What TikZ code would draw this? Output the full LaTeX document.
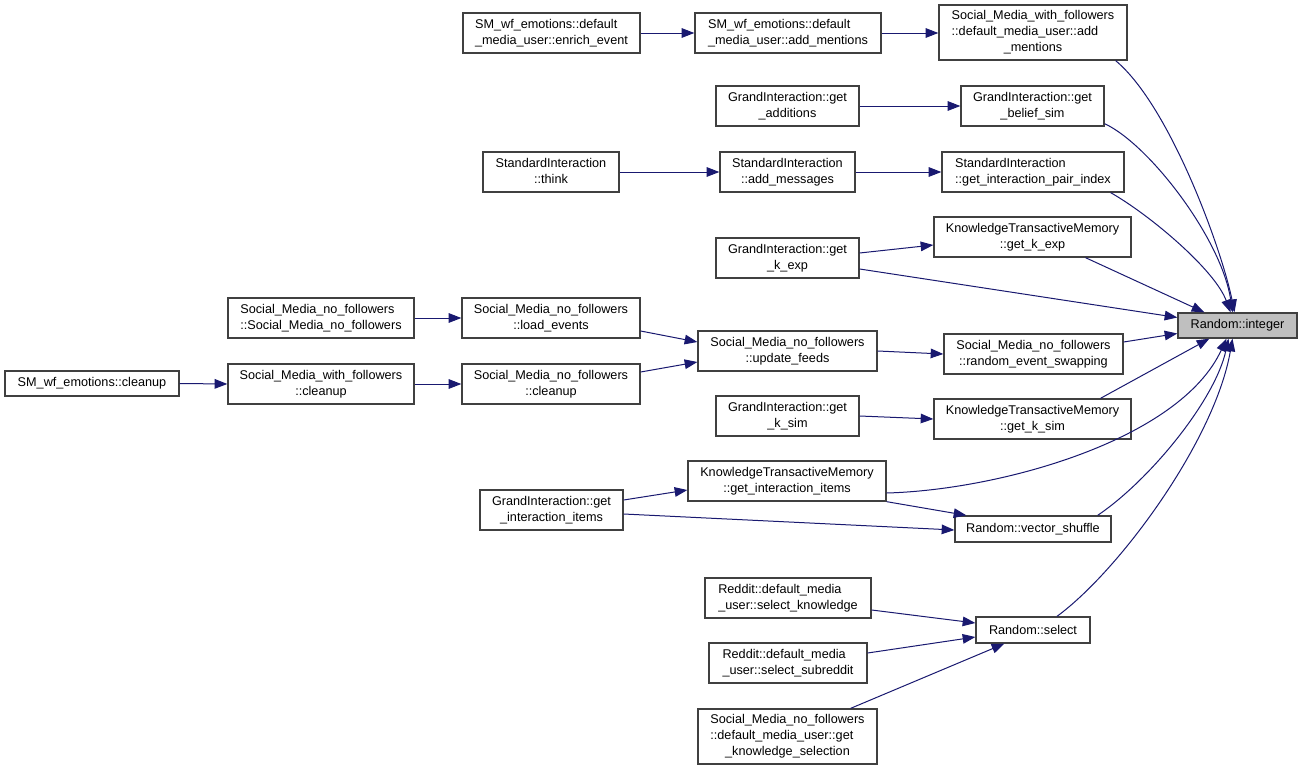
\documentclass[tikz,border=0pt]{standalone}
\usepackage{fontspec}
\setmainfont{Liberation Sans}
\usetikzlibrary{arrows.meta,calc}
\definecolor{edgecol}{HTML}{191970}
\definecolor{bordercol}{HTML}{404040}
\definecolor{rootfill}{HTML}{BFBFBF}
\newcommand\lab[2]{\begin{tabular}{@{}l@{}}#1\\\multicolumn{1}{@{}c@{}}{#2}\end{tabular}}
\begin{document}
\begin{tikzpicture}[x=0.75pt,y=-0.75pt,
  fn/.style n args={2}{draw=bordercol, line width=1pt, fill=white, inner sep=0pt,
    minimum width=#1*0.75pt, minimum height=#2*0.75pt,
    font=\fontsize{9.5}{12}\selectfont},
  ar/.style={draw=edgecol, line width=0.75pt, -{Triangle[length=9.5pt,width=7.2pt]}, fill=none}]
\fill[white] (0,0) rectangle (1303,771);
\useasboundingbox (0,0) rectangle (1303,771);
% nodes
\node[fn={119}{25}, fill=rootfill] (n1) at (1237.5,325.5) {Random::integer};
\node[fn={177}{40}] (n2) at (551.5,33) {\lab{SM\_wf\_emotions::default}{\_media\_user::enrich\_event}};
\node[fn={186}{40}] (n3) at (788,33) {\lab{SM\_wf\_emotions::default}{\_media\_user::add\_mentions}};
\node[fn={188}{55}] (n4) at (1033,32.5) {\lab{Social\_Media\_with\_followers\\::default\_media\_user::add}{\_mentions}};
\node[fn={143}{40}] (n5) at (787.5,106) {\lab{GrandInteraction::get}{\_additions}};
\node[fn={143}{40}] (n6) at (1032.5,106) {\lab{GrandInteraction::get}{\_belief\_sim}};
\node[fn={136}{40}] (n7) at (551,172) {\lab{StandardInteraction}{::think}};
\node[fn={135}{40}] (n8) at (787.5,172) {\lab{StandardInteraction}{::add\_messages}};
\node[fn={182}{40}] (n9) at (1033,172) {\lab{StandardInteraction}{::get\_interaction\_pair\_index}};
\node[fn={197}{40}] (n10) at (1032.5,237) {\lab{KnowledgeTransactiveMemory}{::get\_k\_exp}};
\node[fn={143}{40}] (n11) at (787.5,258) {\lab{GrandInteraction::get}{\_k\_exp}};
\node[fn={186}{40}] (n12) at (321,318) {\lab{Social\_Media\_no\_followers}{::Social\_Media\_no\_followers}};
\node[fn={178}{40}] (n13) at (551,318) {\lab{Social\_Media\_no\_followers}{::load\_events}};
\node[fn={179}{40}] (n14) at (787.5,351) {\lab{Social\_Media\_no\_followers}{::update\_feeds}};
\node[fn={179}{40}] (n15) at (1033.5,354) {\lab{Social\_Media\_no\_followers}{::random\_event\_swapping}};
\node[fn={174}{25}] (n16) at (92,383.5) {SM\_wf\_emotions::cleanup};
\node[fn={186}{40}] (n17) at (321,384) {\lab{Social\_Media\_with\_followers}{::cleanup}};
\node[fn={178}{40}] (n18) at (551,384) {\lab{Social\_Media\_no\_followers}{::cleanup}};
\node[fn={143}{40}] (n19) at (787.5,416) {\lab{GrandInteraction::get}{\_k\_sim}};
\node[fn={197}{40}] (n20) at (1032.5,419) {\lab{KnowledgeTransactiveMemory}{::get\_k\_sim}};
\node[fn={198}{40}] (n21) at (787,481) {\lab{KnowledgeTransactiveMemory}{::get\_interaction\_items}};
\node[fn={143}{40}] (n22) at (551.5,510) {\lab{GrandInteraction::get}{\_interaction\_items}};
\node[fn={156}{26}] (n23) at (1033,529) {Random::vector\_shuffle};
\node[fn={166}{40}] (n24) at (788,598) {\lab{Reddit::default\_media}{\_user::select\_knowledge}};
\node[fn={114}{26}] (n25) at (1033,630) {Random::select};
\node[fn={158}{40}] (n26) at (788,663) {\lab{Reddit::default\_media}{\_user::select\_subreddit}};
\node[fn={179}{55}] (n27) at (787.5,736.5) {\lab{Social\_Media\_no\_followers\\::default\_media\_user::get}{\_knowledge\_selection}};
% edges
\draw[ar] (n2.east) -- (n3.west);
\draw[ar] (n3.east) -- (n3.east -| n4.west);
\draw[ar] ($(n4.south east)+(-12,0)$) .. controls (1170,106) and (1222,250) .. ($(n1.north)+(-3,0)$);
\draw[ar] (n5.east) -- (n6.west);
\draw[ar] ($(n6.south east)+(0,-3)$) .. controls (1150,145) and (1222,240) .. ($(n1.north)+(-5,0)$);
\draw[ar] (n7.east) -- (n8.west);
\draw[ar] (n8.east) -- (n9.west);
\draw[ar] ($(n9.south east)+(-14,0)$) .. controls (1150,215) and (1215,270) .. ($(n1.north)+(-7,0)$);
\draw[ar] ($(n10.south)+(53,0)$) -- ($(n1.north west)+(27,0)$);
\draw[ar] ($(n11.east)+(0,-5)$) -- ($(n10.west)+(0,8)$);
\draw[ar] ($(n11.east)+(0,11)$) -- ($(n1.west)+(0,-8)$);
\draw[ar] (n12.east) -- (n13.west);
\draw[ar] ($(n13.east)+(0,13)$) -- ($(n14.west)+(0,-9)$);
\draw[ar] ($(n18.east)+(0,-12)$) -- ($(n14.west)+(0,11)$);
\draw[ar] (n14.east) -- (n15.west);
\draw[ar] ($(n15.east)+(0,-12)$) -- ($(n1.west)+(0,8)$);
\draw[ar] (n16.east) -- (n17.west);
\draw[ar] (n17.east) -- (n18.west);
\draw[ar] (n19.east) -- (n20.west);
\draw[ar] ($(n20.north)+(68,0)$) -- ($(n1.south west)+(32,0)$);
\draw[ar] ($(n22.east)+(0,-10)$) -- ($(n21.west)+(0,9)$);
\draw[ar] ($(n22.east)+(0,4)$) -- ($(n23.west)+(0,1)$);
\draw[ar] (n21.south east) -- ($(n23.north west)+(12,0)$);
\draw[ar] ($(n21.east)+(0,12)$) .. controls (1000,490) and (1180,440) .. ($(n1.south)+(-11,0)$);
\draw[ar] ($(n23.north east)+(-14,0)$) .. controls (1150,480) and (1215,400) .. ($(n1.south)+(-9,0)$);
\draw[ar] ($(n25.north)+(24,0)$) .. controls (1120,570) and (1215,440) .. ($(n1.south)+(-5,0)$);
\draw[ar] ($(n24.east)+(0,12)$) -- ($(n25.west)+(0,-7)$);
\draw[ar] ($(n26.east)+(0,-10)$) -- ($(n25.west)+(0,7)$);
\draw[ar] ($(n27.north east)+(-27,0)$) -- ($(n25.south west)+(29,0)$);
\end{tikzpicture}
\end{document}
